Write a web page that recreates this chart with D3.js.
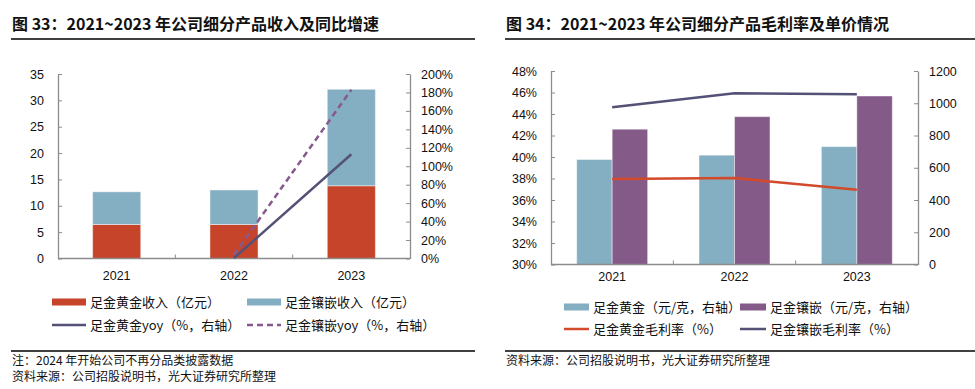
<!DOCTYPE html>
<html>
<head>
<meta charset="utf-8">
<script src="https://cdn.jsdelivr.net/npm/d3@7"></script>
<style>
  body { margin: 0; background: #fff; }
  text { fill: #111; }
  .cjk { font-family: "Noto Sans CJK SC", "Noto Sans", sans-serif; }
  .num { font-family: "Liberation Sans", Arial, sans-serif; font-size: 12.5px; }
</style>
</head>
<body>
<div id="chart"></div>
<script>
// Data
const years = ["2021", "2022", "2023"];

// Chart 33: revenue (亿元) and yoy (%)
const goldRevenue = [6.45, 6.45, 13.8];
const inlayRevenue = [6.2, 6.55, 18.3];
const goldYoy = [null, 0.5, 113];
const inlayYoy = [null, 4, 183];
const revTicks = [0, 5, 10, 15, 20, 25, 30, 35];
const yoyTicks = [0, 20, 40, 60, 80, 100, 120, 140, 160, 180, 200];

// Chart 34: price (元/克) and gross margin (%)
const goldPrice = [651, 678, 731];
const inlayPrice = [839, 917, 1045];
const goldMargin = [37.95, 38.04, 36.96];
const inlayMargin = [44.63, 45.93, 45.83];
const marginTicks = [30, 32, 34, 36, 38, 40, 42, 44, 46, 48];
const priceTicks = [0, 200, 400, 600, 800, 1000, 1200];

const colors = {
  gold: "#C6452A",
  inlayBlue: "#84AEC1",
  purple: "#845A89",
  slate: "#545176",
  dashPurple: "#87598E",
  redLine: "#D24A2A",
  axis: "#8c8c8c"
};

const width = 975, height = 389;
const svg = d3.select("#chart").append("svg")
  .attr("width", width)
  .attr("height", height);

// Helper: frame (title, rules, footnotes)
function drawFrame(x0, x1, title, notes) {
  svg.append("text").attr("class", "cjk")
    .attr("x", x0 + 1).attr("y", 30)
    .attr("font-size", 16).attr("font-weight", "bold")
    .text(title);
  svg.append("line")
    .attr("x1", x0).attr("x2", x1).attr("y1", 39).attr("y2", 39)
    .attr("stroke", "#000").attr("stroke-width", 1.5);
  svg.append("line")
    .attr("x1", x0).attr("x2", x1).attr("y1", 351).attr("y2", 351)
    .attr("stroke", "#000").attr("stroke-width", 1.5);
  notes.forEach((n, i) => {
    svg.append("text").attr("class", "cjk")
      .attr("x", x0 + 1).attr("y", 364.5 + i * 16.7)
      .attr("font-size", 12)
      .text(n);
  });
}

// Helper: axes
function drawAxes(g, x, yL, yR, leftTicks, rightTicks, leftFmt, rightFmt, labelDy) {
  const [x0, x1] = x.range();
  const yBottom = yL.range()[0];

  const left = g.append("g").attr("transform", `translate(${x0},0)`)
    .call(d3.axisLeft(yL).tickValues(leftTicks).tickFormat(leftFmt).tickSizeInner(-4).tickSizeOuter(0).tickPadding(14));
  const right = g.append("g").attr("transform", `translate(${x1},0)`)
    .call(d3.axisRight(yR).tickValues(rightTicks).tickFormat(rightFmt).tickSizeInner(-4).tickSizeOuter(0).tickPadding(11));
  [left, right].forEach(a => {
    a.select(".domain").attr("stroke", colors.axis).attr("stroke-width", 1.3);
    a.selectAll(".tick line").attr("stroke", colors.axis);
    a.selectAll(".tick text").attr("class", "num").attr("fill", "#111");
  });

  // bottom axis: line, boundary ticks, category labels
  g.append("line")
    .attr("x1", x0).attr("x2", x1).attr("y1", yBottom).attr("y2", yBottom)
    .attr("stroke", colors.axis).attr("stroke-width", 1.5);
  g.selectAll(".xtick").data(years.slice(1)).join("line")
    .attr("x1", d => x(d)).attr("x2", d => x(d))
    .attr("y1", yBottom).attr("y2", yBottom - 4)
    .attr("stroke", colors.axis);
  g.selectAll(".xlabel").data(years).join("text")
    .attr("class", "num")
    .attr("x", d => x(d) + x.bandwidth() / 2)
    .attr("y", yBottom + labelDy)
    .attr("text-anchor", "middle")
    .text(d => d);
}

// Helper: legend
function legendItem(g, type, x, y, w, color, label) {
  if (type === "rect") {
    g.append("rect").attr("x", x).attr("y", y - 3.5).attr("width", w).attr("height", 7).attr("fill", color);
  } else {
    g.append("line").attr("x1", x).attr("x2", x + w).attr("y1", y).attr("y2", y)
      .attr("stroke", color).attr("stroke-width", 2.5)
      .attr("stroke-dasharray", type === "dash" ? "6 4" : null);
  }
  g.append("text").attr("class", "cjk")
    .attr("x", x + w + 4).attr("y", y).attr("dy", "0.36em")
    .attr("font-size", 13)
    .text(label);
}

// ---------- Chart 33 ----------
drawFrame(11, 475, "图 33：2021~2023 年公司细分产品收入及同比增速",
  ["注：2024 年开始公司不再分品类披露数据", "资料来源：公司招股说明书，光大证券研究所整理"]);

const g1 = svg.append("g");
const x1 = d3.scaleBand().domain(years).range([58, 410]).paddingInner(0).paddingOuter(0);
const y1L = d3.scaleLinear().domain([0, 35]).range([258.5, 74]);
const y1R = d3.scaleLinear().domain([0, 200]).range([258.5, 74]);
const bw1 = x1.bandwidth() * 0.41;

const stack1 = years.map((yr, i) => ({ yr, gold: goldRevenue[i], inlay: inlayRevenue[i] }));
g1.selectAll(".bar-gold").data(stack1).join("rect")
  .attr("x", d => x1(d.yr) + (x1.bandwidth() - bw1) / 2)
  .attr("width", bw1)
  .attr("y", d => y1L(d.gold))
  .attr("height", d => y1L(0) - y1L(d.gold))
  .attr("fill", colors.gold)
  .attr("stroke", "#fff").attr("stroke-opacity", 0.45).attr("stroke-width", 1);
g1.selectAll(".bar-inlay").data(stack1).join("rect")
  .attr("x", d => x1(d.yr) + (x1.bandwidth() - bw1) / 2)
  .attr("width", bw1)
  .attr("y", d => y1L(d.gold + d.inlay))
  .attr("height", d => y1L(d.gold) - y1L(d.gold + d.inlay))
  .attr("fill", colors.inlayBlue)
  .attr("stroke", "#fff").attr("stroke-opacity", 0.45).attr("stroke-width", 1);

drawAxes(g1, x1, y1L, y1R, revTicks, yoyTicks, d => d, d => d + "%", 21);

const cx1 = d => x1(d.yr) + x1.bandwidth() / 2;
const yoyLine = d3.line().defined(d => d.v != null).x(cx1).y(d => y1R(d.v));
g1.append("path")
  .datum(years.map((yr, i) => ({ yr, v: goldYoy[i] })))
  .attr("d", yoyLine).attr("fill", "none")
  .attr("stroke", colors.slate).attr("stroke-width", 2.5);
g1.append("path")
  .datum(years.map((yr, i) => ({ yr, v: inlayYoy[i] })))
  .attr("d", yoyLine).attr("fill", "none")
  .attr("stroke", colors.dashPurple).attr("stroke-width", 2.5)
  .attr("stroke-dasharray", "6 4");

const lg1 = svg.append("g");
legendItem(lg1, "rect", 52, 302, 34, colors.gold, "足金黄金收入（亿元）");
legendItem(lg1, "rect", 247, 302, 34, colors.inlayBlue, "足金镶嵌收入（亿元）");
legendItem(lg1, "line", 52, 325, 34, colors.slate, "足金黄金yoy（%，右轴）");
legendItem(lg1, "dash", 247, 325, 34, colors.dashPurple, "足金镶嵌yoy（%，右轴）");

// ---------- Chart 34 ----------
drawFrame(505, 975, "图 34：2021~2023 年公司细分产品毛利率及单价情况",
  ["资料来源：公司招股说明书，光大证券研究所整理"]);

const g2 = svg.append("g");
const x2 = d3.scaleBand().domain(years).range([551, 918]).paddingInner(0).paddingOuter(0);
const y2L = d3.scaleLinear().domain([30, 48]).range([264.5, 71]);
const y2R = d3.scaleLinear().domain([0, 1200]).range([264.5, 71]);
const bw2 = x2.bandwidth() * 0.29;
const series2 = [
  { key: "gold", values: goldPrice, color: colors.inlayBlue, offset: -1 },
  { key: "inlay", values: inlayPrice, color: colors.purple, offset: 0 }
];
series2.forEach(s => {
  g2.selectAll(".bar-" + s.key).data(years).join("rect")
    .attr("x", (d) => x2(d) + x2.bandwidth() / 2 + s.offset * bw2)
    .attr("width", bw2)
    .attr("y", (d, i) => y2R(s.values[i]))
    .attr("height", (d, i) => y2R(0) - y2R(s.values[i]))
    .attr("fill", s.color)
    .attr("stroke", "#fff").attr("stroke-opacity", 0.45).attr("stroke-width", 1);
});

drawAxes(g2, x2, y2L, y2R, marginTicks, priceTicks, d => d + "%", d => d, 16);

const cx2 = d => x2(d.yr) + x2.bandwidth() / 2;
const marginLine = d3.line().x(cx2).y(d => y2L(d.v));
g2.append("path")
  .datum(years.map((yr, i) => ({ yr, v: goldMargin[i] })))
  .attr("d", marginLine).attr("fill", "none")
  .attr("stroke", colors.redLine).attr("stroke-width", 2.5);
g2.append("path")
  .datum(years.map((yr, i) => ({ yr, v: inlayMargin[i] })))
  .attr("d", marginLine).attr("fill", "none")
  .attr("stroke", colors.slate).attr("stroke-width", 2.5);

const lg2 = svg.append("g");
legendItem(lg2, "rect", 564, 307, 25, colors.inlayBlue, "足金黄金（元/克，右轴）");
legendItem(lg2, "rect", 740, 307, 26, colors.purple, "足金镶嵌（元/克，右轴）");
legendItem(lg2, "line", 564, 329, 25, colors.redLine, "足金黄金毛利率（%）");
legendItem(lg2, "line", 740, 329, 26, colors.slate, "足金镶嵌毛利率（%）");
</script>
</body>
</html>
